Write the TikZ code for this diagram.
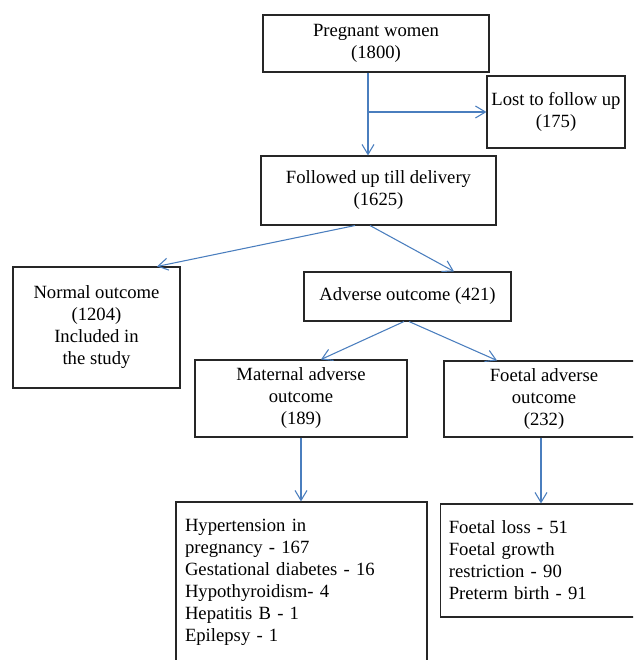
\documentclass[tikz,border=0pt]{standalone}
\usepackage{fontspec}
\setmainfont{Liberation Serif}
\usetikzlibrary{arrows.meta,calc}
\definecolor{flowblue}{RGB}{74,126,190}
\tikzstyle{box} = [rectangle, draw=black!85, line width=0.8pt, align=center, inner sep=0pt, font=\fontsize{14}{16.5}\selectfont]
\tikzstyle{listbox} = [box, align=left, inner ysep=0pt]
\tikzstyle{flow} = [draw=flowblue, line width=0.8pt, -{Straight Barb[length=7.5pt,width=9pt]}]

\begin{document}
\begin{tikzpicture}[x=0.75pt,y=-0.75pt]
	\useasboundingbox (0,0) rectangle (633,660);
	\clip (0,0) rectangle (633,660);
	% boxes
	\node [box, minimum width=169.5pt, minimum height=42.75pt] (preg) at (376,43.5) {Pregnant women\\(1800)};
	\node [box, minimum width=103.5pt, minimum height=54pt] (lost) at (556,112) {Lost to follow up\\(175)};
	\node [box, minimum width=176.25pt, minimum height=51.75pt] (foll) at (378.5,190.5) {Followed up till delivery\\(1625)};
	\node [box, minimum width=125.25pt, minimum height=90.75pt] (normal) at (96.5,327.5) {Normal outcome\\(1204)\\Included in\\the study};
	\node [box, minimum width=155.25pt, minimum height=36.75pt] (adverse) at (407.5,296.5) {Adverse outcome (421)};
	\node [box, minimum width=159pt, minimum height=57.75pt] (maternal) at (301,398.5) {Maternal adverse\\outcome\\(189)};
	\node [box, minimum width=150pt, minimum height=57pt] (foetal) at (544,399) {Foetal adverse\\outcome\\(232)};
	\node [listbox, inner xsep=6.75pt, text width=174.75pt, minimum height=120pt] (matlist) at (301.5,582) {Hypertension in\\pregnancy - 167\\Gestational diabetes - 16\\Hypothyroidism- 4\\Hepatitis B - 1\\Epilepsy - 1};
	\node [listbox, inner xsep=6pt, text width=160pt, minimum height=84.75pt] (foelist) at (555.5,560.5) {Foetal loss - 51\\Foetal growth\\restriction - 90\\Preterm birth - 91};
	% connectors
	\coordinate (split) at (368,112);
	\draw [flow] (split |- preg.south) -- (split |- foll.north);
	\draw [flow] (split) -- (lost.west);
	\draw [flow] ($(foll.south)+(-23.5,0)$) -- ($(normal.north)+(60.5,0)$);
	\draw [flow] ($(foll.south)+(-8.5,0)$) -- ($(adverse.north)+(46.5,0)$);
	\draw [flow] ($(adverse.south)+(-3.5,0)$) -- ($(maternal.north)+(20,0)$);
	\draw [flow] ($(adverse.south)+(1.5,0)$) -- ($(foetal.north)+(-47,0)$);
	\draw [flow] (maternal.south) -- (maternal.south |- matlist.north);
	\draw [flow] ($(foetal.south)+(-3,0)$) -- ($(foetal.south |- foelist.north)+(-3,0)$);
\end{tikzpicture}
\end{document}
